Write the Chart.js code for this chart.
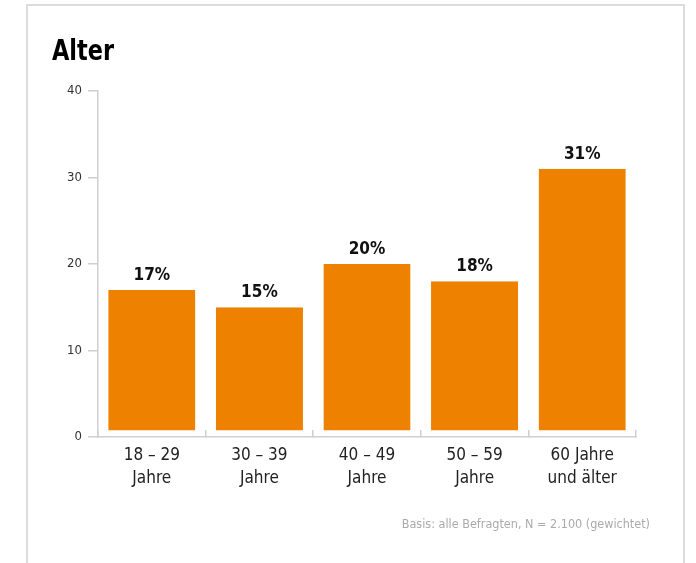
<!DOCTYPE html>
<html>
<head>
<meta charset="utf-8">
<script src="https://cdn.jsdelivr.net/npm/chart.js@4.4.1/dist/chart.umd.min.js"></script>
<style>
  body { margin: 0; background: #fff; }
  #frame { position: absolute; left: 26px; top: 4px; width: 655px; height: 620px; border: 2px solid #dcdcdc; }
  #wrap { position: absolute; left: 0; top: 0; width: 696px; height: 563px; }
  #title { position: absolute; left: 52px; top: 33px; margin: 0; line-height: 29px;
    font: bold 29px "Liberation Sans Narrow", "DejaVu Sans Condensed", sans-serif; color: #000;
    transform: scaleX(0.86); transform-origin: left center; }
  #note { position: absolute; right: 46px; top: 516px; font-size: 12.5px; color: #aaa;
    font-family: "Liberation Sans Narrow", "DejaVu Sans Condensed", sans-serif; }
</style>
</head>
<body>
<div id="frame"></div>
<div id="wrap"><canvas id="myChart" width="696" height="563"></canvas></div>
<div id="title">Alter</div>
<div id="note">Basis: alle Befragten, N = 2.100 (gewichtet)</div>
<script>
const FONT = '"Liberation Sans Narrow", "DejaVu Sans Condensed", sans-serif'

const categories = [["18 – 29", "Jahre"], ["30 – 39", "Jahre"], ["40 – 49", "Jahre"], ["50 – 59", "Jahre"], ["60 Jahre", "und älter"]]
const values = [17, 15, 20, 18, 31]
const yMax = 40
const yStep = 10

// prozentwerte über den balken
const valueLabels = {
    id: "valueLabels",
    afterDatasetsDraw(chart) {
        const ctx = chart.ctx
        const meta = chart.getDatasetMeta(0)
        ctx.save()
        ctx.font = "bold 17px " + FONT
        ctx.fillStyle = "#111"
        ctx.textAlign = "center"
        ctx.textBaseline = "alphabetic"
        meta.data.forEach((bar, i) => {
            ctx.fillText(values[i] + "%", bar.x, bar.y - 10)
        })
        ctx.restore()
    }
}

const config = {
    type: "bar",
    data: {
        labels: categories,
        datasets: [{
            data: values,
            backgroundColor: "#ee8200",
            borderColor: "#fff",
            borderWidth: { top: 0, left: 0, right: 0, bottom: 6 },
            borderSkipped: false,
            categoryPercentage: 1,
            barPercentage: 0.81
        }]
    },
    options: {
        responsive: false,
        animation: false,
        layout: { padding: { left: 0, right: 60, top: 91, bottom: 66 } },
        plugins: { legend: { display: false }, tooltip: { enabled: false } },
        scales: {
            x: {
                z: 1,
                grid: { drawOnChartArea: false, tickLength: -7, tickColor: "#cfcfcf", lineWidth: 1.5, offset: true },
                border: { color: "#cfcfcf", width: 1.5 },
                ticks: { color: "#222", padding: 15, font: { family: FONT, size: 17, lineHeight: 1.3 }, maxRotation: 0 },
                afterFit: (scale) => { scale.height = 60 }
            },
            y: {
                min: 0,
                max: yMax,
                grid: { drawOnChartArea: false, tickLength: 10, tickColor: "#cfcfcf", lineWidth: 1.5 },
                border: { color: "#cfcfcf", width: 1.5 },
                ticks: { stepSize: yStep, color: "#333", padding: 6, font: { family: FONT, size: 13 } },
                afterFit: (scale) => { scale.width = 98 }
            }
        }
    },
    plugins: [valueLabels]
}

const myChart = new Chart(document.getElementById("myChart"), config)
</script>
</body>
</html>
